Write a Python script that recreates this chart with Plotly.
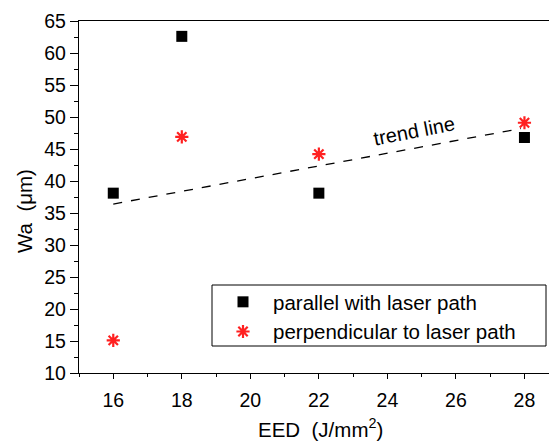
import plotly.graph_objects as go

eed = [16, 18, 22, 28]
wa_parallel = [38.1, 62.6, 38.1, 46.8]
wa_perpendicular = [15.1, 46.9, 44.2, 49.1]
trend_x = [16, 27.9]
trend_y = [36.4, 48.2]

# page body has an 8px margin, so the figure is offset by 8px
OFF = 8
W, H = 557 - OFF, 441 - OFF
L, R, T, B = 79 - OFF, 0, 21 - OFF, 441 - 373
pw, ph = W - L - R, H - T - B

def px(x):
    return (x - OFF - L) / pw

def py(y):
    return (H - B - (y - OFF)) / ph

FONT = "Liberation Sans, Arial, sans-serif"

fig = go.Figure()
fig.add_trace(go.Scatter(
    x=trend_x, y=trend_y, mode="lines",
    line=dict(color="black", width=1.3, dash="dash"),
    showlegend=False, hoverinfo="skip"))
fig.add_trace(go.Scatter(
    x=eed, y=wa_parallel, mode="markers", name="parallel with laser path",
    marker=dict(symbol="square", size=11, color="black")))
fig.add_trace(go.Scatter(
    x=eed, y=wa_perpendicular, mode="markers", name="perpendicular to laser path",
    marker=dict(symbol="asterisk", size=11, color="#ff2020",
                line=dict(color="#ff2020", width=2.2))))

fig.update_layout(
    width=W, height=H,
    margin=dict(l=L, r=R, t=T, b=B, pad=0),
    paper_bgcolor="white", plot_bgcolor="white",
    font=dict(family=FONT, size=19.5, color="black"),
    showlegend=True,
    legend=dict(x=px(213), y=py(282), xanchor="left", yanchor="top",
                bgcolor="rgba(0,0,0,0)", borderwidth=0,
                font=dict(family=FONT, size=20.5, color="black"),
                itemwidth=50, tracegroupgap=0),
    xaxis=dict(range=[15, 28.95], tickmode="array", tickvals=[16, 18, 20, 22, 24, 26, 28],
               showgrid=False, zeroline=False,
               showline=True, linecolor="black", linewidth=1.3, mirror=True,
               ticks="outside", ticklen=5, tickwidth=1.2, tickcolor="black",
               ticklabelstandoff=4,
               minor=dict(dtick=1, ticks="outside", ticklen=3, tickwidth=1.2, tickcolor="black", showgrid=False),
               tickfont=dict(family=FONT, size=19.5)),
    yaxis=dict(range=[10, 65], dtick=5, tick0=10,
               showgrid=False, zeroline=False,
               showline=True, linecolor="black", linewidth=1.3, mirror=False,
               ticks="outside", ticklen=8, tickwidth=1.2, tickcolor="black",
               minor=dict(dtick=2.5, ticks="outside", ticklen=4, tickwidth=1.2, tickcolor="black", showgrid=False),
               tickfont=dict(family=FONT, size=19.5)),
    shapes=[dict(type="rect", xref="paper", yref="paper",
                 x0=px(212), x1=px(546), y0=py(346), y1=py(285),
                 line=dict(color="black", width=1), fillcolor="rgba(0,0,0,0)")],
    annotations=[
        dict(text="EED  (J/mm<sup>2</sup>)", xref="paper", yref="paper",
             x=px(320), y=py(428), xanchor="center", yanchor="middle",
             showarrow=False, font=dict(family=FONT, size=20.5)),
        dict(text="Wa  (μm)", xref="paper", yref="paper", textangle=-90,
             x=px(24), y=py(211), xanchor="center", yanchor="middle",
             showarrow=False, font=dict(family=FONT, size=20.5)),
        dict(text="trend line", x=24.77, y=47.8, xref="x", yref="y",
             textangle=-11, showarrow=False, font=dict(family=FONT, size=20)),
    ],
)

fig.write_html("out.html")
